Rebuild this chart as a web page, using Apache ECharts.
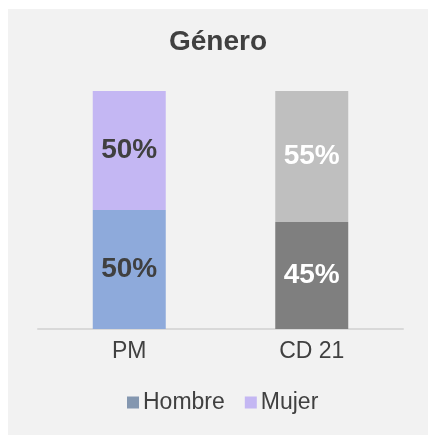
<!DOCTYPE html>
<html>
<head>
<meta charset="utf-8">
<script src="https://cdn.jsdelivr.net/npm/echarts@6/dist/echarts.min.js"></script>
<style>
  html, body { margin: 0; padding: 0; background: #fff; }
  .panel {
    position: absolute;
    left: 8px;
    top: 9px;
    width: 420px;
    height: 426px;
    background: #f2f2f2;
  }
</style>
</head>
<body>
<div class="panel" id="chart"></div>
<script>
const categories = ['PM', 'CD 21']
const hombre = [50, 45]
const mujer = [50, 55]

// bar colours per category, legend keeps its own swatch colour
const hombreColors = ['#8eaadb', '#7f7f7f']
const mujerColors = ['#c4b7f3', '#bfbfbf']
const labelColors = ['#404040', '#ffffff']

const chart = echarts.init(document.getElementById('chart'))

const toItems = (vals, colors) => vals.map((v, i) => ({
  value: v,
  itemStyle: { color: colors[i] },
  label: { color: labelColors[i] }
}))

const font = 'Liberation Sans, Arial, sans-serif'

const labelStyle = {
  show: true,
  position: 'inside',
  formatter: '{c}%',
  fontFamily: font,
  fontSize: 28,
  fontWeight: 'bold'
}

chart.setOption({
  animation: false,
  title: {
    text: 'Género',
    left: 'center',
    top: 14,
    textStyle: {
      color: '#404040',
      fontFamily: font,
      fontSize: 28,
      fontWeight: 'bold'
    }
  },
  legend: {
    bottom: 16,
    left: 114,
    icon: 'rect',
    itemWidth: 12,
    itemHeight: 12,
    itemGap: 20,
    textStyle: {
      color: '#404040',
      fontFamily: font,
      fontSize: 23,
      padding: [0, 0, 0, -1]
    },
    data: ['Hombre', 'Mujer']
  },
  grid: { left: 30, right: 25, top: 82, bottom: 106 },
  xAxis: {
    type: 'category',
    data: categories,
    axisLine: { lineStyle: { color: '#d9d9d9', width: 2 } },
    axisTick: { show: false },
    axisLabel: {
      color: '#404040',
      fontFamily: font,
      fontSize: 23,
      margin: 11
    }
  },
  yAxis: {
    type: 'value',
    min: 0,
    max: 100,
    show: false
  },
  series: [
    {
      name: 'Hombre',
      type: 'bar',
      stack: 'total',
      barWidth: '40%',
      color: '#8497b0',
      label: labelStyle,
      data: toItems(hombre, hombreColors)
    },
    {
      name: 'Mujer',
      type: 'bar',
      stack: 'total',
      barWidth: '40%',
      color: '#c4b7f3',
      label: labelStyle,
      data: toItems(mujer, mujerColors)
    }
  ]
})
</script>
</body>
</html>
